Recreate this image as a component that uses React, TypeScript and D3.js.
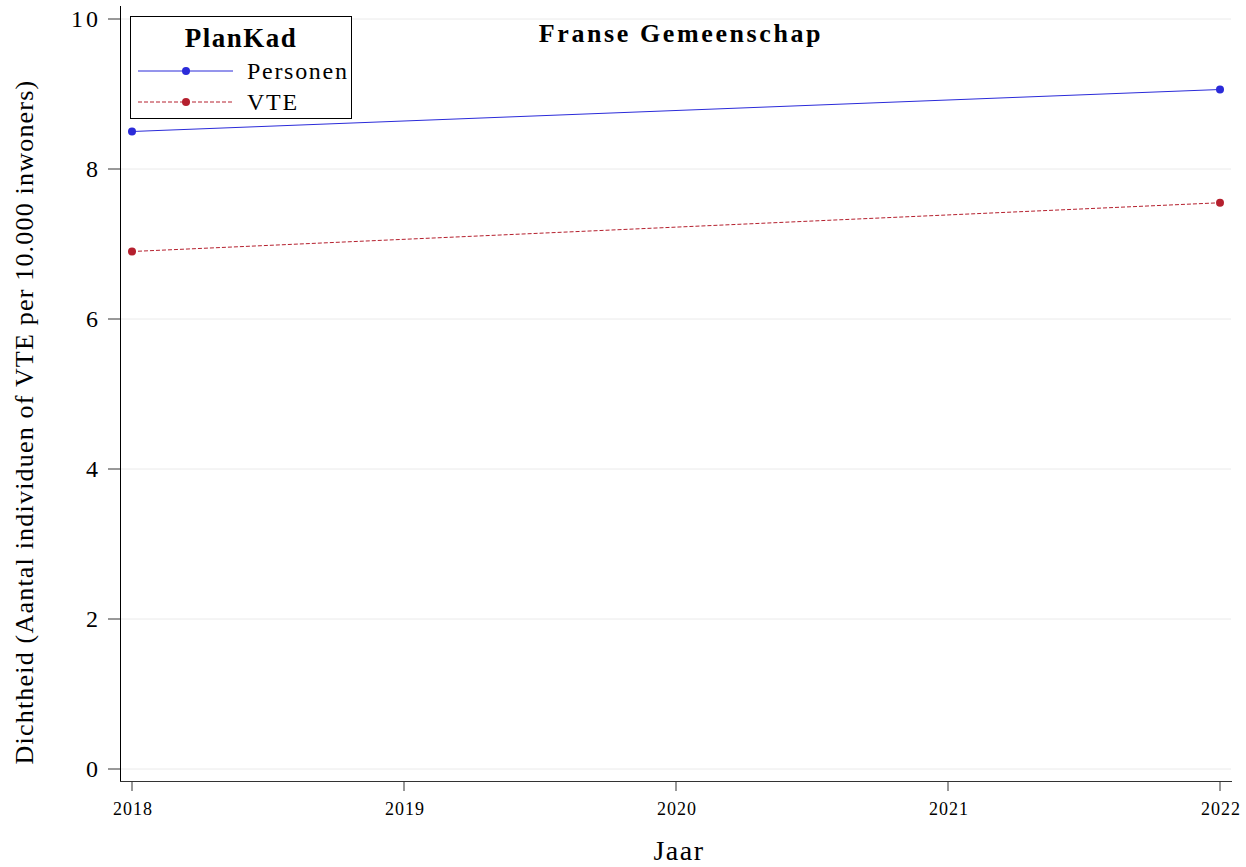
import React from "react";
import * as d3 from "d3";

const years = [2018, 2022];
const xTicks = [2018, 2019, 2020, 2021, 2022];
const yTicks = [0, 2, 4, 6, 8, 10];
const personen = [8.5, 9.06];
const vte = [6.9, 7.55];
const seriesNames = ["Personen", "VTE"];
const seriesColors = ["#2b2bd9", "#b5202e"];

export default function App() {
  const W = 1246, H = 867;
  const x = d3.scaleLinear().domain([2018, 2022]).range([132, 1220]);
  const y = d3.scaleLinear().domain([0, 10]).range([769, 19]);
  const line = d3.line<[number, number]>().x(d => x(d[0])).y(d => y(d[1]));
  const series = [personen, vte];
  const font = "'Liberation Serif', 'Times New Roman', serif";
  return (
    <svg width={W} height={H} style={{ position: "absolute", left: 0, top: 0, fontFamily: font }}>
      <rect width={W} height={H} fill="#fff" />
      {yTicks.map(t => (
        <line key={"g" + t} x1={121} x2={1231} y1={y(t)} y2={y(t)} stroke="#eaeaea" strokeWidth={1} />
      ))}
      <line x1={120.5} x2={120.5} y1={6} y2={781} stroke="#000" strokeWidth={1} />
      <line x1={120} x2={1232} y1={781.5} y2={781.5} stroke="#333" strokeWidth={1} />
      {yTicks.map(t => (
        <g key={"yt" + t}>
          <line x1={108} x2={120} y1={y(t)} y2={y(t)} stroke="#333" />
          <text x={101} y={y(t) + 8} textAnchor="end" fontSize={24} letterSpacing={3}>{t}</text>
        </g>
      ))}
      {xTicks.map(t => (
        <g key={"xt" + t}>
          <line x1={x(t)} x2={x(t)} y1={781} y2={791} stroke="#333" />
          <text x={x(t) + 1} y={815} textAnchor="middle" fontSize={18} letterSpacing={1}>{t}</text>
        </g>
      ))}
      <text x={679} y={860} textAnchor="middle" fontSize={28} letterSpacing={1.5}>Jaar</text>
      <text transform={`translate(33,422) rotate(-90)`} textAnchor="middle" fontSize={26} letterSpacing={1.2}>
        Dichtheid (Aantal individuen of VTE per 10.000 inwoners)
      </text>
      <text x={681} y={42} textAnchor="middle" fontSize={26} fontWeight="bold" letterSpacing={2.6}>Franse Gemeenschap</text>
      {series.map((s, i) => (
        <g key={"s" + i}>
          <path d={line(years.map((yr, j) => [yr, s[j]] as [number, number])) || ""} fill="none"
            stroke={seriesColors[i]} strokeWidth={1} strokeDasharray={i === 1 ? "4,2" : undefined} />
          {years.map((yr, j) => (
            <circle key={j} cx={x(yr)} cy={y(s[j])} r={4} fill={seriesColors[i]} />
          ))}
        </g>
      ))}
      <rect x={130.5} y={16.5} width={221} height={102} fill="#fff" stroke="#000" strokeWidth={1} />
      <text x={241} y={47} textAnchor="middle" fontSize={27} fontWeight="bold" letterSpacing={1.5}>PlanKad</text>
      {seriesNames.map((n, i) => {
        const ly = 71 + i * 31;
        return (
          <g key={"l" + i}>
            <line x1={138} x2={233} y1={ly} y2={ly} stroke={seriesColors[i]} strokeWidth={1}
              strokeDasharray={i === 1 ? "4,2" : undefined} />
            <circle cx={186} cy={ly} r={4} fill={seriesColors[i]} />
            <text x={247} y={ly + 8} fontSize={24} letterSpacing={1.7}>{n}</text>
          </g>
        );
      })}
    </svg>
  );
}
